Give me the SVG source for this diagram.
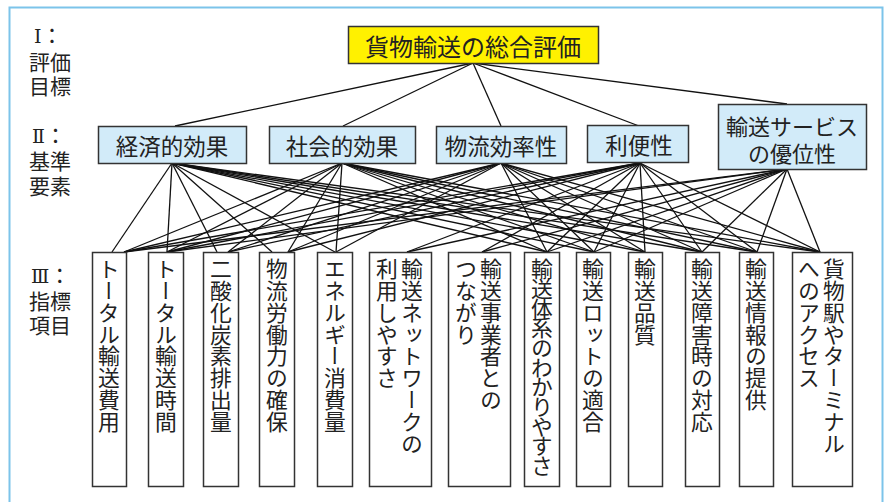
<svg xmlns="http://www.w3.org/2000/svg" width="886" height="502" viewBox="0 0 886 502">
<style>
.t{font-family:"Noto Sans CJK JP","Noto Sans",sans-serif;fill:#222}
.h{font-size:22.5px;text-anchor:middle;dominant-baseline:central}
.v{font-size:21.8px;writing-mode:vertical-rl}
.lab{font-size:21px}
.rn{font-family:"DejaVu Serif","Liberation Serif",serif;font-size:19px}
.b2{fill:#d2ebf9;stroke:#333;stroke-width:1.5}
.b3{fill:#fff;stroke:#333;stroke-width:1.5}
#conn line{stroke:#111;stroke-width:1.3}
</style>
<rect x="9.5" y="7.5" width="873" height="510" fill="#fff" stroke="#7cc4ea" stroke-width="2"/>
<g id="labels">
<text class="t lab" x="29" y="43"><tspan x="34" class="rn">Ⅰ</tspan>：<tspan x="29" dy="27">評価</tspan><tspan x="29" dy="24">目標</tspan></text>
<text class="t lab" x="29" y="143"><tspan x="32" class="rn">Ⅱ</tspan>：<tspan x="29" dy="26">基準</tspan><tspan x="29" dy="25">要素</tspan></text>
<text class="t lab" x="29" y="283"><tspan x="31" class="rn">Ⅲ</tspan>：<tspan x="29" dy="26">指標</tspan><tspan x="29" dy="24">項目</tspan></text>
</g>
<g id="conn">
<line x1="473" y1="63" x2="175" y2="126"/>
<line x1="473" y1="63" x2="343" y2="126"/>
<line x1="473" y1="63" x2="501" y2="126"/>
<line x1="473" y1="63" x2="639" y2="126"/>
<line x1="473" y1="63" x2="787" y2="104"/>
<line x1="172" y1="163" x2="112" y2="252"/>
<line x1="172" y1="163" x2="167" y2="252"/>
<line x1="172" y1="163" x2="217" y2="252"/>
<line x1="172" y1="163" x2="272" y2="252"/>
<line x1="172" y1="163" x2="335" y2="252"/>
<line x1="172" y1="163" x2="547" y2="252"/>
<line x1="172" y1="163" x2="594" y2="252"/>
<line x1="172" y1="163" x2="645" y2="252"/>
<line x1="172" y1="163" x2="702" y2="252"/>
<line x1="172" y1="163" x2="757" y2="252"/>
<line x1="172" y1="163" x2="820" y2="252"/>
<line x1="342" y1="163" x2="124" y2="252"/>
<line x1="342" y1="163" x2="167" y2="252"/>
<line x1="342" y1="163" x2="228" y2="252"/>
<line x1="342" y1="163" x2="288" y2="252"/>
<line x1="342" y1="163" x2="336" y2="252"/>
<line x1="342" y1="163" x2="547" y2="252"/>
<line x1="342" y1="163" x2="594" y2="252"/>
<line x1="342" y1="163" x2="645" y2="252"/>
<line x1="342" y1="163" x2="702" y2="252"/>
<line x1="342" y1="163" x2="757" y2="252"/>
<line x1="342" y1="163" x2="820" y2="252"/>
<line x1="501" y1="163" x2="124" y2="252"/>
<line x1="501" y1="163" x2="167" y2="252"/>
<line x1="501" y1="163" x2="228" y2="252"/>
<line x1="501" y1="163" x2="288" y2="252"/>
<line x1="501" y1="163" x2="336" y2="252"/>
<line x1="501" y1="163" x2="547" y2="252"/>
<line x1="501" y1="163" x2="594" y2="252"/>
<line x1="501" y1="163" x2="645" y2="252"/>
<line x1="501" y1="163" x2="702" y2="252"/>
<line x1="501" y1="163" x2="757" y2="252"/>
<line x1="501" y1="163" x2="820" y2="252"/>
<line x1="640" y1="163" x2="124" y2="252"/>
<line x1="640" y1="163" x2="167" y2="252"/>
<line x1="640" y1="163" x2="228" y2="252"/>
<line x1="640" y1="163" x2="288" y2="252"/>
<line x1="640" y1="163" x2="407" y2="252"/>
<line x1="640" y1="163" x2="482" y2="252"/>
<line x1="640" y1="163" x2="547" y2="252"/>
<line x1="640" y1="163" x2="594" y2="252"/>
<line x1="640" y1="163" x2="645" y2="252"/>
<line x1="640" y1="163" x2="702" y2="252"/>
<line x1="640" y1="163" x2="757" y2="252"/>
<line x1="640" y1="163" x2="820" y2="252"/>
<line x1="787" y1="169" x2="124" y2="252"/>
<line x1="787" y1="169" x2="167" y2="252"/>
<line x1="787" y1="169" x2="407" y2="252"/>
<line x1="787" y1="169" x2="482" y2="252"/>
<line x1="787" y1="169" x2="547" y2="252"/>
<line x1="787" y1="169" x2="594" y2="252"/>
<line x1="787" y1="169" x2="702" y2="252"/>
<line x1="787" y1="169" x2="757" y2="252"/>
<line x1="787" y1="169" x2="820" y2="252"/>
</g>
<g id="goal">
<rect x="348.5" y="26.5" width="250" height="37" fill="#fff100" stroke="#333" stroke-width="1.5"/>
<text class="t h" x="473" y="45" style="font-size:24px">貨物輸送の総合評価</text>
</g>
<g id="c1"><rect class="b2" x="98.5" y="126.5" width="148" height="37"/><text class="t h" x="172" y="145">経済的効果</text></g>
<g id="c2"><rect class="b2" x="269.5" y="126.5" width="146" height="37"/><text class="t h" x="342" y="145">社会的効果</text></g>
<g id="c3"><rect class="b2" x="436.5" y="126.5" width="130" height="37"/><text class="t h" x="501" y="145">物流効率性</text></g>
<g id="c4"><rect class="b2" x="587.5" y="125.5" width="101" height="37"/><text class="t h" x="639" y="144">利便性</text></g>
<g id="c5"><rect class="b2" x="718.5" y="104.5" width="148" height="65"/><text class="t h" x="792" y="125" style="font-size:22px">輸送サービス<tspan x="792" dy="27">の優位性</tspan></text></g>
<g id="i1"><rect class="b3" x="92.5" y="252.5" width="34" height="234"/><text class="t v" x="109" y="258">トータル輸送費用</text></g>
<g id="i2"><rect class="b3" x="148.5" y="252.5" width="35" height="234"/><text class="t v" x="166" y="258">トータル輸送時間</text></g>
<g id="i3"><rect class="b3" x="203.5" y="252.5" width="35" height="234"/><text class="t v" x="221" y="258">二酸化炭素排出量</text></g>
<g id="i4"><rect class="b3" x="259.5" y="252.5" width="35" height="234"/><text class="t v" x="277" y="258">物流労働力の確保</text></g>
<g id="i5"><rect class="b3" x="317.5" y="252.5" width="35" height="234"/><text class="t v" x="335" y="258">エネルギー消費量</text></g>
<g id="i6"><rect class="b3" x="369.5" y="252.5" width="62" height="234"/><text class="t v" x="412" y="258">輸送ネットワークの</text><text class="t v" x="387" y="258">利用しやすさ</text></g>
<g id="i7"><rect class="b3" x="448.5" y="252.5" width="62" height="234"/><text class="t v" x="491" y="258">輸送事業者との</text><text class="t v" x="466" y="258">つながり</text></g>
<g id="i8"><rect class="b3" x="524.5" y="252.5" width="35" height="234"/><text class="t v" x="542" y="258" style="letter-spacing:-2.1px">輸送体系のわかりやすさ</text></g>
<g id="i9"><rect class="b3" x="576.5" y="252.5" width="34" height="234"/><text class="t v" x="593" y="258">輸送ロットの適合</text></g>
<g id="i10"><rect class="b3" x="628.5" y="252.5" width="34" height="234"/><text class="t v" x="645" y="258">輸送品質</text></g>
<g id="i11"><rect class="b3" x="685.5" y="252.5" width="34" height="234"/><text class="t v" x="702" y="258">輸送障害時の対応</text></g>
<g id="i12"><rect class="b3" x="739.5" y="252.5" width="34" height="234"/><text class="t v" x="756" y="258">輸送情報の提供</text></g>
<g id="i13"><rect class="b3" x="792.5" y="252.5" width="60" height="234"/><text class="t v" x="834" y="258">貨物駅やターミナル</text><text class="t v" x="809" y="258">へのアクセス</text></g>
</svg>
